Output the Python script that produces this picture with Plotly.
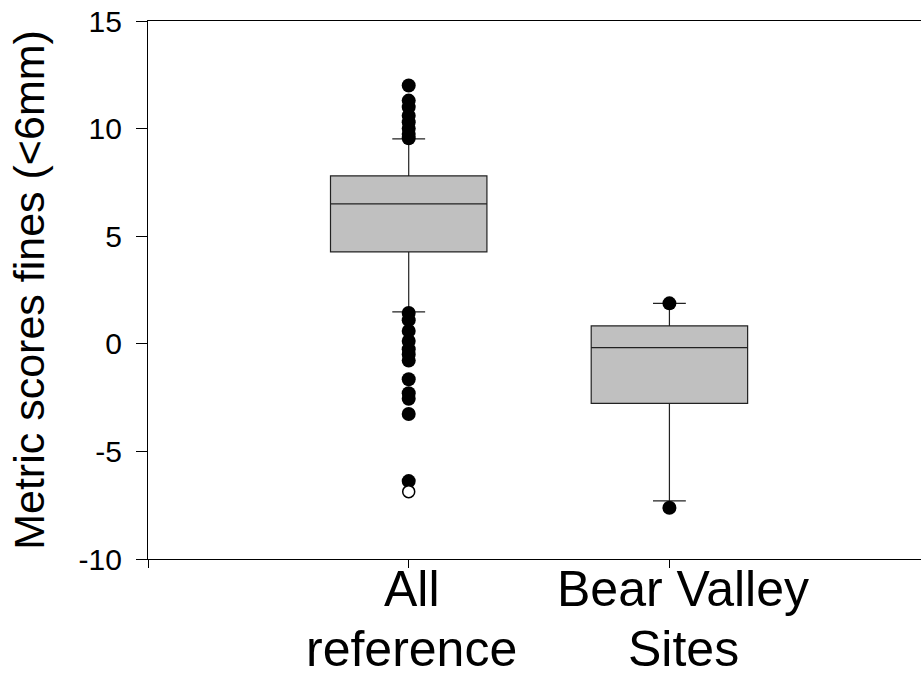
import plotly.graph_objects as go

# ---- data ----
group_line1 = ["All", "Bear Valley"]
group_line2 = ["reference", "Sites"]
group_pos = [0, 1]
q1 = [4.27, -2.77]
median = [6.50, -0.18]
q3 = [7.80, 0.83]
lower_whisker = [1.48, -7.30]
upper_whisker = [9.52, 1.88]

ref_outliers = [12.0, 11.3, 11.0, 10.6, 10.3, 10.0, 9.75, 9.55,
                1.43, 1.1, 0.6, 0.13, -0.25, -0.5, -0.78, -1.65, -2.3, -2.55, -3.26, -6.38]
ref_open_outliers = [-6.87]
bv_outliers = [1.88, -7.62]

y_ticks = [-10, -5, 0, 5, 10, 15]
y_tick_labels = ["-10", "-5", "0", "5", "10", "15"]

# label placement (pixels), kept separate from the data
label_xshift = [3, 14]
line1_yshift = [-1, -1]
line2_yshift = [-61, -61]

FONT = "Liberation Sans, Arial, sans-serif"

fig = go.Figure()
for i in range(len(group_pos)):
    fig.add_trace(go.Box(
        x=[group_pos[i]], q1=[q1[i]], median=[median[i]], q3=[q3[i]],
        lowerfence=[lower_whisker[i]], upperfence=[upper_whisker[i]],
        boxpoints=False, width=0.6, whiskerwidth=0.21,
        fillcolor="#c0c0c0", line=dict(color="#222222", width=1.2),
        showlegend=False, hoverinfo="skip",
    ))

fig.add_trace(go.Scatter(
    x=[group_pos[0]] * len(ref_outliers), y=ref_outliers, mode="markers",
    marker=dict(size=14, color="black"), showlegend=False))
fig.add_trace(go.Scatter(
    x=[group_pos[0]] * len(ref_open_outliers), y=ref_open_outliers, mode="markers",
    marker=dict(size=12, color="white", line=dict(color="black", width=1.5)), showlegend=False))
fig.add_trace(go.Scatter(
    x=[group_pos[1]] * len(bv_outliers), y=bv_outliers, mode="markers",
    marker=dict(size=14, color="black"), showlegend=False))

# two-line category labels (tight line spacing like the reference)
for i in range(len(group_pos)):
    fig.add_annotation(x=group_pos[i], xref="x", y=0, yref="paper", yanchor="top",
                       xshift=label_xshift[i], yshift=line1_yshift[i],
                       text=group_line1[i], showarrow=False, borderpad=0,
                       font=dict(size=50, family=FONT, color="black"))
    fig.add_annotation(x=group_pos[i], xref="x", y=0, yref="paper", yanchor="top",
                       xshift=label_xshift[i], yshift=line2_yshift[i],
                       text=group_line2[i], showarrow=False, borderpad=0,
                       font=dict(size=50, family=FONT, color="black"))

fig.update_layout(
    width=921, height=679,
    margin=dict(l=148, r=0, t=21, b=120, autoexpand=False),
    paper_bgcolor="white", plot_bgcolor="white",
    font=dict(family=FONT, color="black"),
    xaxis=dict(
        range=[-1.0, 1.965], tickvals=[-1] + group_pos, ticktext=["", "", ""],
        showgrid=False, zeroline=False, showline=True, linecolor="black", linewidth=1.2,
        mirror=True, ticks="outside", ticklen=8, tickcolor="black",
        automargin=False,
    ),
    yaxis=dict(
        range=[-10, 15], tickvals=y_ticks, ticktext=y_tick_labels,
        showgrid=False, zeroline=False, showline=True, linecolor="black", linewidth=1.2,
        ticks="outside", ticklen=11, tickcolor="black",
        tickfont=dict(size=30, family=FONT), automargin=False, ticklabelstandoff=8,
        title=dict(text="Metric scores fines (<6mm)", font=dict(size=43, family=FONT), standoff=20),
    ),
)

fig.write_html("out.html", config={"displayModeBar": False},
               post_script="document.body.style.margin='0';document.body.style.overflow='hidden';")
